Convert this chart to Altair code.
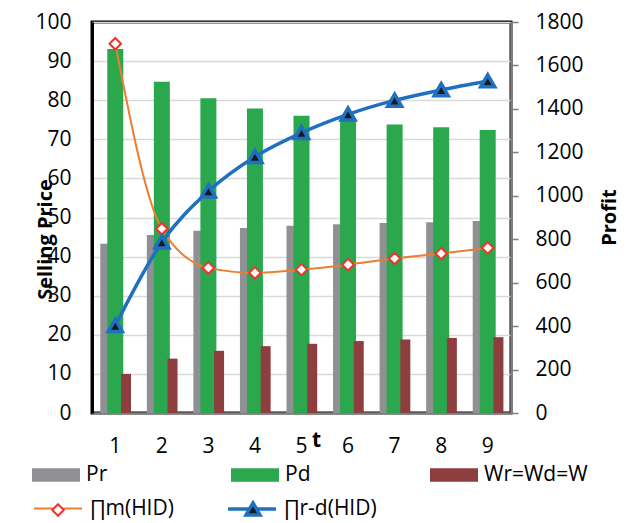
import altair as alt
import pandas as pd

# ---- data ----
t = [1, 2, 3, 4, 5, 6, 7, 8, 9]
pr = [43.3, 45.5, 46.6, 47.3, 47.9, 48.3, 48.6, 48.8, 49.1]
pd_vals = [93.1, 84.7, 80.5, 77.9, 76.0, 74.9, 73.8, 73.1, 72.4]
w = [10.0, 13.9, 15.9, 17.1, 17.7, 18.4, 18.8, 19.2, 19.4]
pi_m = [1700, 848, 668, 645, 660, 683, 711, 734, 760]
pi_rd = [402, 786, 1021, 1180, 1290, 1375, 1439, 1487, 1528]

bar_names = ["Pr", "Pd", "Wr=Wd=W"]
bar_colors = ["#8E9093", "#2BA84E", "#8E3E3F"]
line_names = ["\u220fm(HID)", "\u220fr-d(HID)"]
line_colors = ["#ED7D31", "#1F70C0"]
line_widths = [2, 3.5]
marker_names = [n + "\u200b" for n in line_names]
marker_paths = ["M0,-0.24L0.24,0L0,0.24L-0.24,0Z", "M0,-0.26L0.29,0.24L-0.29,0.24Z"]
marker_fills = ["#FFFFFF", "#1A1A1A"]
marker_strokes = ["#F5302A", "#1F70C0"]
marker_widths = [2, 3.5]

left_ticks = list(range(0, 101, 10))
right_ticks = list(range(0, 1801, 200))

bars_df = pd.DataFrame({
    "t": t * 3,
    "series": [bar_names[0]] * 9 + [bar_names[1]] * 9 + [bar_names[2]] * 9,
    "value": pr + pd_vals + w,
})
lines_df = pd.DataFrame({
    "t": t * 2,
    "series": [line_names[0]] * 9 + [line_names[1]] * 9,
    "mk": [marker_names[0]] * 9 + [marker_names[1]] * 9,
    "value": pi_m + pi_rd,
})

FONT = "Open Sans"
SYM = 2304  # 48 px symbol box

x_enc = alt.X(
    "t:O",
    scale=alt.Scale(paddingInner=0, paddingOuter=0),
    axis=alt.Axis(
        title="t", labelAngle=0, ticks=False, domainColor="#7F7F7F", domainWidth=2,
        labelFontSize=21, labelPadding=22, labelColor="black", labelFont=FONT,
        titleFontSize=21, titleFontWeight="bold", titleFont=FONT, titleColor="black",
        titleX=224, titleY=33, titleBaseline="alphabetic",
    ),
)

y_left = alt.Y(
    "value:Q",
    scale=alt.Scale(domain=[0, 100], nice=False),
    axis=alt.Axis(
        values=left_ticks, title="Selling Price", titleAngle=270, titleX=-47, titleY=217,
        titleBaseline="middle", titleFontSize=20, titleFontWeight="bold", titleFont=FONT,
        titleColor="black", ticks=False, labelPadding=21, labelFontSize=21, labelFont=FONT,
        labelColor="black", domainColor="black", domainWidth=3, grid=True,
        gridColor="#D9D9D9", gridWidth=1.5,
    ),
)

y_right = alt.Y(
    "value:Q",
    scale=alt.Scale(domain=[0, 1800], nice=False),
    axis=alt.Axis(
        orient="right", values=right_ticks, format="d", title="Profit", titleAngle=270,
        titleX=98, titleY=195, titleBaseline="middle", titleFontSize=20,
        titleFontWeight="bold", titleFont=FONT, titleColor="black", grid=False,
        tickSize=7, tickColor="#7F7F7F", tickWidth=1.5, domainColor="#7F7F7F",
        domainWidth=2.5, labelPadding=17, labelFontSize=21, labelFont=FONT,
        labelColor="black",
    ),
)

bar_legend = alt.Legend(
    orient="none", legendX=-60, legendY=429, direction="horizontal", columns=3,
    title=None, symbolType="M-1,-0.28H1V0.28H-1Z", symbolSize=SYM, symbolStrokeWidth=0,
    labelFont=FONT, labelFontSize=21, labelColor="black", labelOffset=6,
    columnPadding=41, gridAlign="all", padding=0, symbolOpacity=1, labelLimit=300,
)

line_legend = alt.Legend(
    orient="none", legendX=-60, legendY=461, direction="horizontal", columns=3,
    title=None, symbolType="M-1,0H1", symbolSize=SYM,
    labelFont=FONT, labelFontSize=21, labelColor="black", labelOffset=6,
    columnPadding=38, gridAlign="all", padding=0, symbolOpacity=1, labelLimit=300,
)

# marker symbols drawn on top of the line symbols (no labels of their own)
marker_legend = alt.Legend(
    orient="none", legendX=-60, legendY=461, direction="horizontal", columns=3,
    title=None, symbolSize=SYM, labelExpr="''",
    labelFont=FONT, labelFontSize=21, labelColor="black", labelOffset=6,
    columnPadding=137, gridAlign="all", padding=0, symbolOpacity=1, labelLimit=300,
)

bar_color = alt.Color("series:N", scale=alt.Scale(domain=bar_names, range=bar_colors),
                      legend=bar_legend)


def bar_layer(name, size, offset):
    return (
        alt.Chart(bars_df)
        .transform_filter(alt.datum.series == name)
        .mark_bar(size=size, xOffset=offset)
        .encode(x=x_enc, y=y_left, color=bar_color)
    )


bars = alt.layer(
    bar_layer(bar_names[0], 16, -7),
    bar_layer(bar_names[1], 16, 0),
    bar_layer(bar_names[2], 10, 10.7),
)

lines = alt.Chart(lines_df).mark_line(interpolate="monotone").encode(
    x=x_enc,
    y=y_right,
    color=alt.Color("series:N", scale=alt.Scale(domain=line_names, range=line_colors),
                    legend=line_legend),
    strokeWidth=alt.StrokeWidth("series:N",
                                scale=alt.Scale(domain=line_names, range=line_widths),
                                legend=line_legend),
)

points = alt.Chart(lines_df).mark_point(size=SYM, opacity=1).encode(
    x=x_enc,
    y=y_right,
    shape=alt.Shape("mk:N", scale=alt.Scale(domain=marker_names, range=marker_paths),
                    legend=marker_legend),
    fill=alt.Fill("mk:N", scale=alt.Scale(domain=marker_names, range=marker_fills),
                  legend=marker_legend),
    stroke=alt.Stroke("mk:N", scale=alt.Scale(domain=marker_names, range=marker_strokes),
                      legend=marker_legend),
    strokeWidth=alt.StrokeWidth("mk:N",
                                scale=alt.Scale(domain=marker_names, range=marker_widths),
                                legend=marker_legend),
)

inner = alt.layer(lines, points).resolve_scale(
    color="independent", strokeWidth="independent", shape="independent",
    fill="independent", stroke="independent",
)

chart = (
    alt.layer(bars, inner)
    .resolve_scale(y="independent", color="independent", strokeWidth="independent")
    .properties(
        width=419, height=391,
        autosize=alt.AutoSizeParams(type="none"),
        padding={"left": 84, "top": 14, "right": 112, "bottom": 112},
        background="white",
    )
    .configure_view(stroke="black", strokeWidth=3)
)

chart.save("out.html", embed_options={"renderer": "svg", "actions": False})
